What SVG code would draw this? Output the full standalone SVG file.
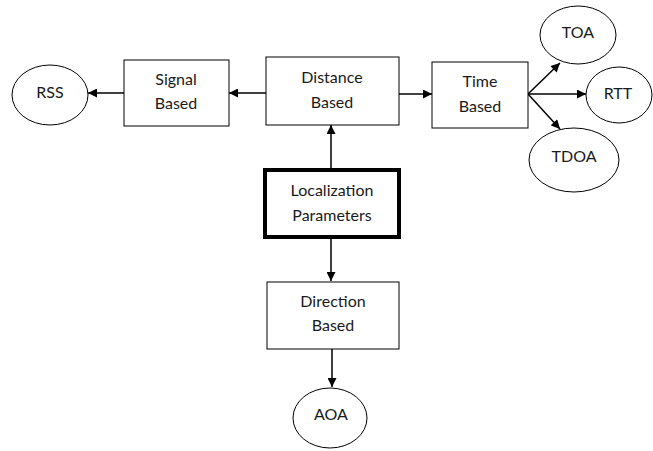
<svg xmlns="http://www.w3.org/2000/svg" width="653" height="451" viewBox="0 0 653 451">
  <style>
    .box { fill: #ffffff; stroke: #000000; stroke-width: 1; }
    .main { fill: #ffffff; stroke: #000000; stroke-width: 4; }
    .oval { fill: #ffffff; stroke: #000000; stroke-width: 1; }
    .lbl { font-family: Lato, "Open Sans", "Liberation Sans", sans-serif; font-size: 16px; fill: #1a1a1a; text-anchor: middle; }
    .edge { stroke: #000000; stroke-width: 1.5; fill: none; marker-end: url(#arrow); }
  </style>
  <defs>
    <marker id="arrow" viewBox="0 0 10 10" refX="10" refY="5" markerWidth="10" markerHeight="9" markerUnits="userSpaceOnUse" orient="auto">
      <path d="M0,0 L10,5 L0,10 Z" fill="#000000"/>
    </marker>
  </defs>
  <rect width="653" height="451" fill="#ffffff"/>

  <g id="connectors">
    <line class="edge" x1="266" y1="93" x2="229" y2="93"/>
    <line class="edge" x1="124" y1="93" x2="88" y2="93"/>
    <line class="edge" x1="399" y1="94" x2="432" y2="94"/>
    <line class="edge" x1="331" y1="168" x2="331" y2="125"/>
    <line class="edge" x1="331" y1="239" x2="331" y2="281"/>
    <line class="edge" x1="332" y1="349" x2="332" y2="387"/>
    <line class="edge" x1="528" y1="94" x2="560" y2="63"/>
    <line class="edge" x1="528" y1="94" x2="586" y2="94"/>
    <line class="edge" x1="528" y1="94" x2="560" y2="129"/>
  </g>

  <g id="rss">
    <ellipse class="oval" cx="50" cy="95" rx="38" ry="30"/>
    <text class="lbl" x="50" y="98">RSS</text>
  </g>

  <g id="signal-based">
    <rect class="box" x="124" y="60" width="105" height="66"/>
    <text class="lbl" x="176" y="85">Signal</text>
    <text class="lbl" x="176" y="109">Based</text>
  </g>

  <g id="distance-based">
    <rect class="box" x="266" y="57" width="133" height="68"/>
    <text class="lbl" x="332" y="83">Distance</text>
    <text class="lbl" x="332" y="108">Based</text>
  </g>

  <g id="time-based">
    <rect class="box" x="432" y="62" width="96" height="66"/>
    <text class="lbl" x="480" y="87">Time</text>
    <text class="lbl" x="480" y="112">Based</text>
  </g>

  <g id="toa">
    <ellipse class="oval" cx="578" cy="35" rx="38" ry="29"/>
    <text class="lbl" x="578" y="38">TOA</text>
  </g>

  <g id="rtt">
    <ellipse class="oval" cx="619" cy="95" rx="33" ry="28"/>
    <text class="lbl" x="618" y="99">RTT</text>
  </g>

  <g id="tdoa">
    <ellipse class="oval" cx="574" cy="160" rx="45" ry="32"/>
    <text class="lbl" x="574" y="162">TDOA</text>
  </g>

  <g id="localization-parameters">
    <rect class="main" x="265" y="170" width="134" height="67"/>
    <text class="lbl" x="332" y="196">Localization</text>
    <text class="lbl" x="332" y="221">Parameters</text>
  </g>

  <g id="direction-based">
    <rect class="box" x="267" y="282" width="132" height="67"/>
    <text class="lbl" x="333" y="307">Direction</text>
    <text class="lbl" x="333" y="331">Based</text>
  </g>

  <g id="aoa">
    <ellipse class="oval" cx="330" cy="418" rx="37" ry="30"/>
    <text class="lbl" x="331" y="420">AOA</text>
  </g>
</svg>
